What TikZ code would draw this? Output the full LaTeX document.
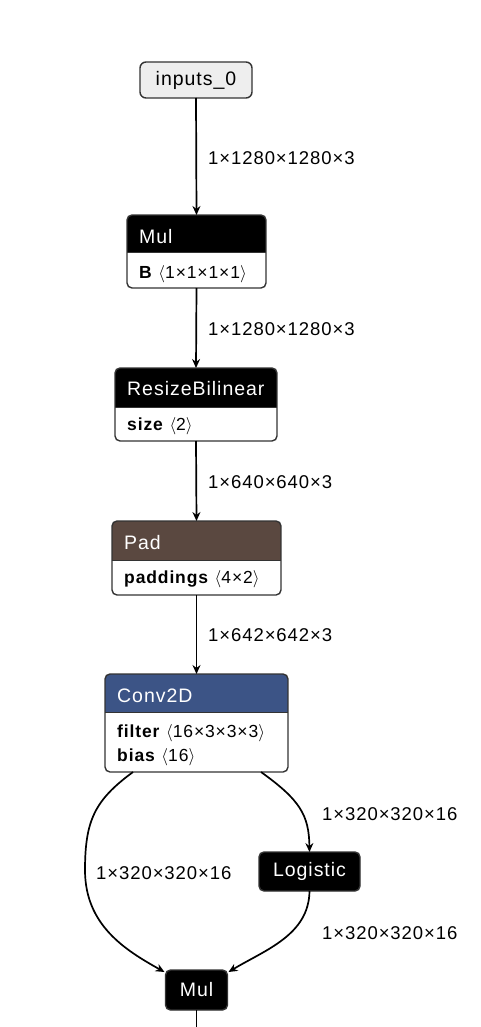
\documentclass[tikz,border=0pt]{standalone}
\usepackage{fontspec}
\setmainfont[LetterSpace=5]{Liberation Sans}
\usetikzlibrary{arrows.meta}
\definecolor{frame}{HTML}{333333}
\definecolor{inputc}{HTML}{EEEEEE}
\definecolor{padc}{HTML}{5A4840}
\definecolor{convc}{HTML}{3C5486}
\newcommand\ang[1]{$\langle$#1$\rangle$}
\newcommand\opbox[3]{%
  \begin{scope}
    \clip[rounded corners=5pt] (#1.north west) rectangle (#1.south east);
    \fill[#2] (#1.north west) rectangle ([yshift=-#3]#1.north east);
    \draw[frame, line width=0.8pt] ([yshift=-#3]#1.north west) -- ([yshift=-#3]#1.north east);
  \end{scope}
  \draw[frame, line width=1.4pt, rounded corners=5pt] (#1.north west) rectangle (#1.south east);}
\tikzset{
  opframe/.style={fill=white, inner sep=0pt, outer sep=0pt},
  pill/.style={fill=black, draw=frame, line width=1.4pt, rounded corners=5pt, text=white,
    font=\fontsize{19.5}{21}\selectfont, inner sep=0pt, outer sep=0pt},
  edge/.style={line width=1.7pt, -{Stealth[length=9pt,width=8pt,inset=3pt]}},
  elabel/.style={font=\fontsize{18.5}{21}\selectfont, anchor=west, inner sep=0pt},
  title/.style={font=\fontsize{19.5}{21}\selectfont, text=white, anchor=base west, inner sep=0pt},
  attr/.style={font=\fontsize{17.5}{21}\selectfont, anchor=base west, inner sep=0pt},
}
\begin{document}
\begin{tikzpicture}[x=1pt,y=-1pt]
\useasboundingbox[fill=white] (0,0) rectangle (480,1027);
% nodes
\node[draw=frame, fill=inputc, line width=1.4pt, rounded corners=6pt, minimum width=112pt,
  minimum height=36pt, inner sep=0pt, outer sep=0pt, font=\fontsize{19.5}{21}\selectfont]
  (in) at (196,80) {inputs\_0};
\node[opframe, minimum width=139pt, minimum height=73pt] (mul1) at (196.5,251.5) {};
\opbox{mul1}{black}{37pt}
\node[title] (mul1t) at (139,243) {Mul};
\node[attr] (mul1a) at (139,278) {\textbf{B} \ang{1×1×1×1}};

\node[opframe, minimum width=162pt, minimum height=73pt] (rs) at (196,404.5) {};
\opbox{rs}{black}{39pt}
\node[title] (rst) at (127,395) {ResizeBilinear};
\node[attr] (rsa) at (127,430) {\textbf{size} \ang{2}};

\node[opframe, minimum width=169pt, minimum height=74pt] (pad) at (196.5,558) {};
\opbox{pad}{padc}{39pt}
\node[title] (padt) at (124,549) {Pad};
\node[attr] (pada) at (124,583) {\textbf{paddings} \ang{4×2}};

\node[opframe, minimum width=183pt, minimum height=98pt] (conv) at (196.5,723) {};
\opbox{conv}{convc}{38pt}
\node[title] (convt) at (117,702) {Conv2D};
\node[attr] (conva) at (117,737) {\textbf{filter} \ang{16×3×3×3}};
\node[attr] (convb) at (117,761) {\textbf{bias} \ang{16}};

\node[pill, minimum width=101pt, minimum height=39pt] (log) at (309.5,871.5) {Logistic};
\node[pill, minimum width=62pt, minimum height=40pt] (mul2) at (196.5,990) {Mul};
\coordinate (out) at (196.5,1027);

% edges
\draw[edge] (in.south) -- (mul1.north);
\node[elabel] (l1) at (208,158) {1×1280×1280×3};
\draw[edge] (mul1.south) -- (rs.north);
\node[elabel] (l2) at (208,329) {1×1280×1280×3};
\draw[edge] (rs.south) -- (pad.north);
\node[elabel] (l3) at (208,482) {1×640×640×3};
\draw[edge] (pad.south) -- (conv.north);
\node[elabel] (l4) at (208,635) {1×642×642×3};

\draw[edge] ([xshift=-63.5pt]conv.south) .. controls (95,800) and (85,820) .. (85,870)
  .. controls (85,925) and (125,950) .. ([xshift=-1pt,yshift=-2pt]mul2.north west);
\node[elabel] (l5) at (96,873) {1×320×320×16};
\draw[edge] ([xshift=64.5pt]conv.south) .. controls (300,800) and (309,815) .. (log.north);
\node[elabel] (l6) at (322,814) {1×320×320×16};
\draw[edge] (log.south) .. controls (309,935) and (265,950) .. ([xshift=1pt,yshift=-2pt]mul2.north east);
\node[elabel] (l7) at (322,933) {1×320×320×16};
\draw[line width=1.7pt] (mul2.south) -- (out);
\end{tikzpicture}
\end{document}
